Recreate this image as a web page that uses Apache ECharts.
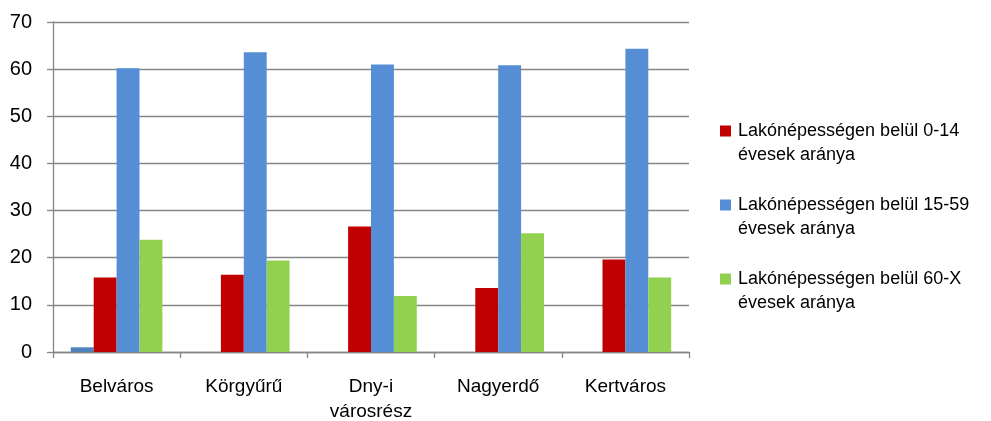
<!DOCTYPE html>
<html><head><meta charset="utf-8">
<script src="https://cdn.jsdelivr.net/npm/echarts@6/dist/echarts.min.js"></script>
<style>html,body{margin:0;padding:0;background:#fff}#c{width:991px;height:421px}</style>
</head><body><div id="c"></div>
<script>
var categories = ['Belváros', 'Körgyűrű', 'Dny-i\nvárosrész', 'Nagyerdő', 'Kertváros'];
var seriesNames = ['Lakónépességen belül 0-14\névesek aránya', 'Lakónépességen belül 15-59\névesek aránya', 'Lakónépességen belül 60-X\névesek aránya'];
var extraValues = [1.0, null, null, null, null];
var age0to14 = [15.8, 16.4, 26.6, 13.6, 19.6];
var age15to59 = [60.2, 63.6, 61.0, 60.8, 64.3];
var age60plus = [23.8, 19.4, 11.9, 25.2, 15.8];
var yTicks = [0, 70, 10];

var FONT = '"Liberation Sans", Arial, sans-serif';
var chart = echarts.init(document.getElementById('c'));
chart.setOption({
  animation: false,
  textStyle: {fontFamily: FONT},
  grid: {left: 53, right: 302, top: 22, bottom: 69, containLabel: false, outerBoundsMode: 'none'},
  legend: {
    orient: 'vertical', left: 720, top: 95, padding: 0,
    data: seriesNames, itemWidth: 11, itemHeight: 11, itemGap: 2,
    icon: 'rect',
    formatter: function (n) { return ' \n' + n; },
    textStyle: {fontFamily: FONT, fontSize: 18, color: '#000', lineHeight: 24, padding: [0, 0, 0, 2]}
  },
  xAxis: {
    type: 'category', data: categories,
    axisLine: {lineStyle: {color: '#868686', width: 1.3}},
    axisTick: {show: true, length: 6, lineStyle: {color: '#868686', width: 1.3}},
    axisLabel: {fontFamily: FONT, fontSize: 19, color: '#000', margin: 22, lineHeight: 25}
  },
  yAxis: {
    type: 'value', min: yTicks[0], max: yTicks[1], interval: yTicks[2],
    axisLine: {show: true, lineStyle: {color: '#868686', width: 1.3}},
    axisTick: {show: true, length: 6, lineStyle: {color: '#868686', width: 1.3}},
    splitLine: {lineStyle: {color: '#868686', width: 1.3}},
    axisLabel: {fontFamily: FONT, fontSize: 20, color: '#000', margin: 21}
  },
  series: [
    {name: 'extra', type: 'bar', data: extraValues, barGap: '0%', barCategoryGap: '28%', itemStyle: {color: '#4F81BD'}},
    {name: seriesNames[0], type: 'bar', data: age0to14, itemStyle: {color: '#C00000'}},
    {name: seriesNames[1], type: 'bar', data: age15to59, itemStyle: {color: '#558ED5'}},
    {name: seriesNames[2], type: 'bar', data: age60plus, itemStyle: {color: '#92D050'}}
  ]
});
</script></body></html>
